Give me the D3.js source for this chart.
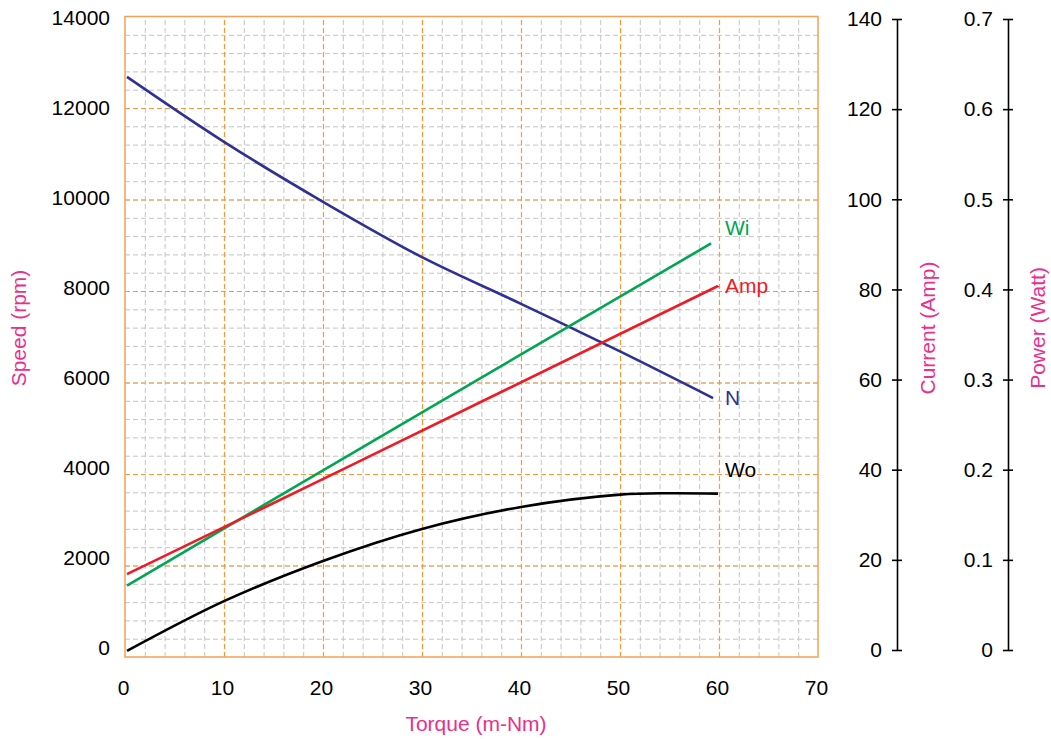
<!DOCTYPE html>
<html>
<head>
<meta charset="utf-8">
<script src="https://cdn.jsdelivr.net/npm/d3@7"></script>
<style>
  body { margin: 0; background: #fff; }
  svg text { font-family: "Liberation Sans", Arial, Helvetica, sans-serif; }
  .grid-minor line { stroke: #c4c4c4; stroke-width: 1; stroke-dasharray: 5,3; }
  .grid-major line { stroke: #f7963a; stroke-width: 1.2; stroke-dasharray: 5,3; }
  .frame { fill: none; stroke: #f5a055; stroke-width: 1.5; }
  .axis text { font-size: 21px; fill: #000; }
  .title { font-size: 21px; fill: #e8308c; }
  .series { fill: none; stroke-width: 2.6; }
  .series-label { font-size: 21px; }
</style>
</head>
<body>
<div id="motor-chart"></div>
<script>
// Data
var torqueTicks = [0, 10, 20, 30, 40, 50, 60, 70];
var speedTicks = [0, 2000, 4000, 6000, 8000, 10000, 12000, 14000];
var currentTicks = [0, 20, 40, 60, 80, 100, 120, 140];
var powerTicks = [0, 0.1, 0.2, 0.3, 0.4, 0.5, 0.6, 0.7];

// N: speed (rpm)
var speedTorque = [0.2, 10, 20, 30, 40, 50, 59.4];
var speedValues = [12680, 11260, 9950, 8740, 7720, 6680, 5660];

// Amp: current (A)
var ampTorque = [0.2, 21.9, 59.9];
var ampValues = [18.1, 40.9, 81.1];

// Wi: input power (W)
var wiTorque = [0.2, 20, 59.2];
var wiValues = [0.078, 0.204, 0.452];

// Wo: output power (W)
var woTorque = [0.2, 10, 20, 30, 40, 50, 55, 59.9];
var woValues = [0.0066, 0.061, 0.105, 0.140, 0.164, 0.1775, 0.179, 0.1785];

var COLORS = {
  navy: "#2e3192",
  green: "#00a651",
  red: "#ed1c24",
  black: "#000"
};

var zip = (xs, ys) => xs.map((x, i) => ({ x: x, y: ys[i] }));

var renderChart = function() {
  var width = 1051;
  var height = 739;
  var plot = { left: 125, right: 818, top: 16.5, bottom: 657 };

  var svg = d3.select("#motor-chart")
    .append("svg")
    .attr("width", width)
    .attr("height", height);

  // Scales: plot area and the (slightly shorter) labelled axes
  var xScale = d3.scaleLinear().domain([0, 70]).range([plot.left, plot.right]);
  var yPlot = d3.scaleLinear().domain([0, 14000]).range([plot.bottom, plot.top]);
  var yCurrentPlot = d3.scaleLinear().domain([0, 140]).range([plot.bottom, plot.top]);
  var yPowerPlot = d3.scaleLinear().domain([0, 0.7]).range([plot.bottom, plot.top]);

  var ySpeedAxis = d3.scaleLinear().domain([0, 14000]).range([648, 18]);
  var yCurrentAxis = d3.scaleLinear().domain([0, 140]).range([650, 19]);
  var yPowerAxis = d3.scaleLinear().domain([0, 0.7]).range([650, 19]);

  var plotW = plot.right - plot.left;
  var plotH = plot.bottom - plot.top;

  // Grid
  svg.append("g")
    .attr("class", "grid-minor")
    .attr("transform", `translate(0,${plot.bottom})`)
    .call(d3.axisBottom(xScale).tickValues(d3.range(2, 70, 2)).tickSize(-plotH).tickFormat(""))
    .call(g => g.select(".domain").remove());
  svg.append("g")
    .attr("class", "grid-minor")
    .attr("transform", `translate(${plot.left},0)`)
    .call(d3.axisLeft(yPlot).tickValues(d3.range(400, 14000, 400)).tickSize(-plotW).tickFormat(""))
    .call(g => g.select(".domain").remove());
  svg.append("g")
    .attr("class", "grid-major")
    .attr("transform", `translate(0,${plot.bottom})`)
    .call(d3.axisBottom(xScale).tickValues(torqueTicks.slice(1, -1)).tickSize(-plotH).tickFormat(""))
    .call(g => g.select(".domain").remove());
  svg.append("g")
    .attr("class", "grid-major")
    .attr("transform", `translate(${plot.left},0)`)
    .call(d3.axisLeft(yPlot).tickValues(speedTicks.slice(1, -1)).tickSize(-plotW).tickFormat(""))
    .call(g => g.select(".domain").remove());

  svg.append("rect")
    .attr("class", "frame")
    .attr("x", plot.left)
    .attr("y", plot.top)
    .attr("width", plotW)
    .attr("height", plotH);

  // Bottom and left tick labels (no tick marks)
  svg.append("g")
    .attr("class", "axis")
    .attr("transform", `translate(-2,${plot.bottom})`)
    .call(d3.axisBottom(xScale).tickValues(torqueTicks).tickSize(0).tickPadding(23))
    .call(g => g.select(".domain").remove());

  svg.append("g")
    .attr("class", "axis")
    .attr("transform", `translate(${plot.left},0)`)
    .call(d3.axisLeft(ySpeedAxis).tickValues(speedTicks).tickSize(0).tickPadding(15).tickFormat(d3.format("d")))
    .call(g => g.select(".domain").remove());

  // Right axes with ticks crossing the spine
  var rightAxis = function(x, scale, ticks, fmt) {
    var g = svg.append("g")
      .attr("class", "axis")
      .attr("transform", `translate(${x},0)`)
      .call(d3.axisLeft(scale).tickValues(ticks).tickSize(5).tickSizeOuter(0).tickPadding(10).tickFormat(fmt));
    g.select(".domain").attr("stroke-width", 1.6);
    g.selectAll(".tick line").attr("x1", 5).attr("stroke-width", 1.6);
  };
  rightAxis(897, yCurrentAxis, currentTicks, d3.format("d"));
  rightAxis(1008, yPowerAxis, powerTicks, d => d === 0 ? "0" : d3.format(".1f")(d));

  // Axis titles
  svg.append("text")
    .attr("class", "title")
    .attr("x", 476)
    .attr("y", 731)
    .attr("text-anchor", "middle")
    .text("Torque (m-Nm)");
  [["Speed (rpm)", 26], ["Current (Amp)", 935], ["Power (Watt)", 1045]].forEach(function(t) {
    svg.append("text")
      .attr("class", "title")
      .attr("transform", `translate(${t[1]},328) rotate(-90)`)
      .attr("text-anchor", "middle")
      .text(t[0]);
  });

  // Series
  var series = [
    { name: "N", data: zip(speedTorque, speedValues), y: yPlot, color: COLORS.navy, dy: 7 },
    { name: "Wi", data: zip(wiTorque, wiValues), y: yPowerPlot, color: COLORS.green, dy: -8 },
    { name: "Amp", data: zip(ampTorque, ampValues), y: yCurrentPlot, color: COLORS.red, dy: 7 },
    { name: "Wo", data: zip(woTorque, woValues), y: yPowerPlot, color: COLORS.black, dy: -17 }
  ];

  series.forEach(function(s) {
    var line = d3.line()
      .x(d => xScale(d.x))
      .y(d => s.y(d.y))
      .curve(d3.curveCatmullRom);

    svg.append("path")
      .attr("class", "series")
      .attr("stroke", s.color)
      .attr("d", line(s.data));

    var last = s.data[s.data.length - 1];
    svg.append("text")
      .attr("class", "series-label")
      .attr("fill", s.color)
      .attr("x", xScale(60) + 6)
      .attr("y", s.y(last.y) + s.dy)
      .text(s.name);
  });
};

renderChart();
</script>
</body>
</html>
